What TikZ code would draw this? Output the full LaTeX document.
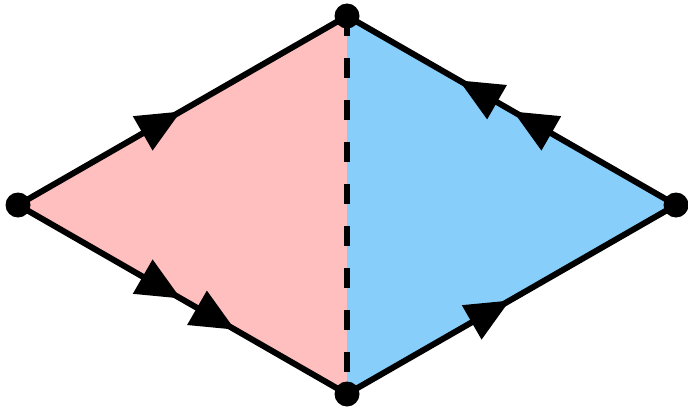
\documentclass[tikz,border=0pt]{standalone}
\usetikzlibrary{arrows.meta,decorations.markings}
\definecolor{pinkfill}{RGB}{255,191,191}
\definecolor{bluefill}{RGB}{135,206,250}
\begin{document}
\begin{tikzpicture}[x=1pt,y=-1pt,
  vert/.style={circle,fill=black,inner sep=0pt,minimum size=25pt},
  edge/.style={line width=6pt,line join=round},
  tipone/.style={postaction={decorate},decoration={markings,
    mark=at position 0.495 with {\arrow{Triangle[length=44pt,width=38pt]}}}},
  tiptwo/.style={postaction={decorate},decoration={markings,
    mark=at position 0.495 with {\arrow{Triangle[length=44pt,width=38pt]}},
    mark=at position 0.66 with {\arrow{Triangle[length=44pt,width=38pt]}}}},
  mid/.style={line width=6pt,dash pattern=on 20pt off 22pt}]
\useasboundingbox (0,0) rectangle (688,412);
\coordinate (l) at (18,205);
\coordinate (t) at (347,16);
\coordinate (r) at (676,205);
\coordinate (b) at (347,394);
\fill[pinkfill] (l) -- (t) -- (b) -- cycle;
\fill[bluefill] (t) -- (r) -- (b) -- cycle;
\draw[mid] (t) -- (b);
\draw[edge,tipone] (l) -- (t);
\draw[edge,tiptwo] (l) -- (b);
\draw[edge,tipone] (b) -- (r);
\draw[edge,tiptwo] (r) -- (t);
\node[vert] (L) at (l) {};
\node[vert] (T) at (t) {};
\node[vert] (R) at (r) {};
\node[vert] (B) at (b) {};
\end{tikzpicture}
\end{document}
